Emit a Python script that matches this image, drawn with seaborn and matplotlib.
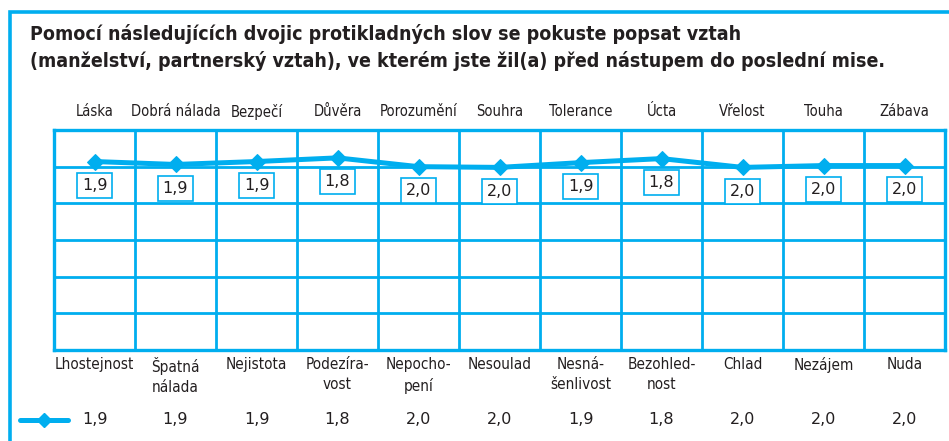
import numpy as np
import pandas as pd
import matplotlib
matplotlib.use("Agg")
import matplotlib.pyplot as plt
import seaborn as sns
from matplotlib.patches import Rectangle
from matplotlib.lines import Line2D

positives = ["Láska", "Dobrá nálada", "Bezpečí", "Důvěra", "Porozumění", "Souhra",
             "Tolerance", "Úcta", "Vřelost", "Touha", "Zábava"]
negatives = ["Lhostejnost", "Špatná\nnálada", "Nejistota", "Podezíra-\nvost", "Nepocho-\npení",
             "Nesoulad", "Nesná-\nšenlivost", "Bezohled-\nnost", "Chlad", "Nezájem", "Nuda"]
scores = [1.86, 1.94, 1.86, 1.76, 2.00, 2.02, 1.89, 1.78, 2.02, 1.97, 1.97]
scale = [1, 2, 3, 4, 5, 6, 7]

title = ("Pomocí následujících dvojic protikladných slov se pokuste popsat vztah\n"
         "(manželství, partnerský vztah), ve kterém jste žil(a) před nástupem do poslední mise.")

BLUE = "#00AEEF"
TEXT = "#231F20"
W, H = 949, 441

sns.set_style("white")
plt.rcParams["font.family"] = ["DejaVu Sans"]
plt.rcParams["font.stretch"] = "condensed"

df = pd.DataFrame({"pos": range(len(scores)), "score": scores})

fig = plt.figure(figsize=(W / 100, H / 100), dpi=100)

# frame around the whole panel
fig.patches.append(Rectangle((10 / W, -0.1), 1.2, 1 - 12 / H + 0.1, transform=fig.transFigure,
                             fill=False, edgecolor=BLUE, linewidth=2.6))

fig.text(30 / W, 1 - 24 / H, title, fontsize=14, fontweight="bold", color=TEXT,
         va="top", ha="left", linespacing=1.45)

ax = fig.add_axes([54 / W, 1 - 350 / H, (945 - 54) / W, (350 - 130) / H])
sns.lineplot(data=df, x="pos", y="score", ax=ax, color=BLUE, linewidth=3.6,
             marker="D", markersize=8, markeredgecolor=BLUE)

ax.set_xlim(-0.5, len(scores) - 0.5)
ax.set_ylim(scale[-1], scale[0])
ax.set_xticks(np.arange(-0.5, len(scores), 1))
ax.set_yticks(scale)
ax.set_xticklabels([])
ax.set_yticklabels([])
ax.tick_params(length=0)
ax.set_xlabel("")
ax.set_ylabel("")
ax.grid(True, color=BLUE, linewidth=2)
for s in ax.spines.values():
    s.set_color(BLUE)
    s.set_linewidth(2.4)

def fmt(v):
    return f"{v:.1f}".replace(".", ",")

for i, v in enumerate(scores):
    ax.annotate(fmt(v), (i, v), xytext=(0, -24), textcoords="offset pixels",
                ha="center", va="center", fontsize=11.5, fontstretch="normal", color=TEXT,
                bbox=dict(boxstyle="square,pad=0.32", fc="white", ec=BLUE, lw=1.2))

xt = ax.get_xaxis_transform()
for i, (p, n) in enumerate(zip(positives, negatives)):
    ax.text(i, 1 + 18 / 220, p, transform=xt, ha="center", va="center", fontsize=10.6, color=TEXT)
    ax.text(i, -7 / 220, n, transform=xt, ha="center", va="top", fontsize=11, color=TEXT,
            linespacing=1.45)
    ax.text(i, -70 / 220, fmt(scores[i]), transform=xt, ha="center",
            va="center", fontsize=11.5, fontstretch="normal", color=TEXT)

# legend sample
fig.lines.append(Line2D([20 / W, 68 / W], [1 - 420 / H] * 2, transform=fig.transFigure,
                        color=BLUE, linewidth=3.6, solid_capstyle="round"))
fig.lines.append(Line2D([44 / W], [1 - 420 / H], transform=fig.transFigure, color=BLUE,
                        marker="D", markersize=7))

fig.savefig("out.png", dpi=100)
